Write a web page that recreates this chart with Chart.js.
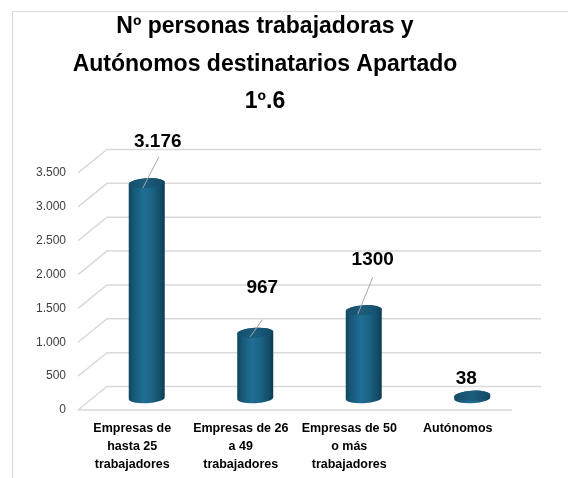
<!DOCTYPE html>
<html>
<head>
<meta charset="utf-8">
<script src="https://cdn.jsdelivr.net/npm/chart.js@4/dist/chart.umd.min.js"></script>
<style>
html,body{margin:0;padding:0;background:#fff;}
canvas{display:block;}
</style>
</head>
<body>
<canvas id="c" width="568" height="478"></canvas>
<script>
const titleLines = ["Nº personas trabajadoras y", "Autónomos destinatarios Apartado", "1º.6"];
const categories = [["Empresas de", "hasta 25", "trabajadores"], ["Empresas de 26", "a 49", "trabajadores"], ["Empresas de 50", "o más", "trabajadores"], "Autónomos"];
const values = [3176, 967, 1300, 38];
const valueLabels = ["3.176", "967", "1300", "38"];
const yMin = 0, yMax = 3500, yStep = 500;

const FONT = "'Liberation Sans', Arial, sans-serif";
const DEPTH = { dx: 29, dy: -23.5 };
const LABEL_OFFSETS = [{x: 11, y: -41}, {x: 7, y: -45}, {x: 9, y: -50}, {x: -6, y: -17}];
const LEADERS = [[-4, 5, 12, -26], [-5, 4, 7, -13], [-6, 4, 9, -33], null];

const fmt = v => String(v).replace(/\B(?=(\d{3})+(?!\d))/g, '.');

const frame3d = {
  id: 'frame3d',
  beforeDraw(chart) {
    const ctx = chart.ctx;
    ctx.save();
    ctx.fillStyle = '#fff';
    ctx.fillRect(0, 0, chart.width, chart.height);
    ctx.strokeStyle = '#d9d9d9';
    ctx.lineWidth = 1;
    ctx.strokeRect(12.5, 11.5, 1000, 1000);
    // title
    ctx.fillStyle = '#000';
    ctx.font = "bold 23px " + FONT;
    ctx.textAlign = 'center';
    ctx.textBaseline = 'alphabetic';
    const base = [33, 70.5, 107.5];
    titleLines.forEach((t, i) => ctx.fillText(t, 265, base[i]));
    ctx.restore();
  },
  beforeDatasetsDraw(chart) {
    const ctx = chart.ctx, y = chart.scales.y, a = chart.chartArea;
    ctx.save();
    ctx.strokeStyle = '#d9d9d9';
    ctx.lineWidth = 1.5;
    y.ticks.forEach(t => {
      const py = y.getPixelForValue(t.value);
      ctx.beginPath();
      ctx.moveTo(a.left, py);
      ctx.lineTo(a.left + DEPTH.dx, py + DEPTH.dy);
      ctx.lineTo(a.right + DEPTH.dx, py + DEPTH.dy);
      if (t.value === 0) {
        ctx.moveTo(a.left, py);
        ctx.lineTo(a.right, py);
      }
      ctx.stroke();
    });
    ctx.restore();
  },
  afterDatasetsDraw(chart) {
    const ctx = chart.ctx;
    const meta = chart.getDatasetMeta(0);
    ctx.save();
    meta.data.forEach((bar, i) => {
      const p = bar.getProps(['x', 'y', 'base', 'width'], true);
      const cx = p.x + DEPTH.dx / 2;
      const top = p.y + DEPTH.dy / 2;
      const bottom = p.base + DEPTH.dy / 2;
      const rx = p.width / 2, ry = 5, rot = -0.06;
      const g = ctx.createLinearGradient(cx - rx, 0, cx + rx, 0);
      g.addColorStop(0, '#0f445f');
      g.addColorStop(0.12, '#165674');
      g.addColorStop(0.4, '#1f6e95');
      g.addColorStop(0.6, '#1c6789');
      g.addColorStop(0.88, '#134d69');
      g.addColorStop(1, '#0d3b52');
      ctx.beginPath();
      ctx.moveTo(cx - rx, top);
      ctx.lineTo(cx - rx, bottom);
      ctx.ellipse(cx, bottom, rx, ry, rot, Math.PI, 0, true);
      ctx.lineTo(cx + rx, top);
      ctx.ellipse(cx, top, rx, ry, rot, 0, Math.PI, true);
      ctx.closePath();
      ctx.fillStyle = g;
      ctx.fill();
      // top cap
      const g2 = ctx.createLinearGradient(cx - rx, 0, cx + rx, 0);
      g2.addColorStop(0, '#164f6b');
      g2.addColorStop(0.5, '#1b5d7d');
      g2.addColorStop(1, '#134864');
      ctx.beginPath();
      ctx.ellipse(cx, top, rx, ry, rot, 0, Math.PI * 2);
      ctx.fillStyle = g2;
      ctx.fill();
      // leader line
      const L = LEADERS[i];
      if (L) {
        ctx.beginPath();
        ctx.strokeStyle = '#a6a6a6';
        ctx.lineWidth = 1;
        ctx.moveTo(cx + L[0], top + L[1]);
        ctx.lineTo(cx + L[2], top + L[3]);
        ctx.stroke();
      }
      // value label
      const o = LABEL_OFFSETS[i];
      ctx.fillStyle = '#000';
      ctx.font = "bold 19px " + FONT;
      ctx.textAlign = 'center';
      ctx.textBaseline = 'middle';
      ctx.fillText(valueLabels[i], cx + o.x, top + o.y);
    });
    ctx.restore();
  }
};

new Chart(document.getElementById('c'), {
  type: 'bar',
  data: {
    labels: categories,
    datasets: [{
      data: values,
      backgroundColor: 'rgba(0,0,0,0)',
      borderWidth: 0,
      categoryPercentage: 1,
      barPercentage: 0.332
    }]
  },
  options: {
    responsive: false,
    animation: false,
    devicePixelRatio: 1,
    layout: { padding: { top: 173, right: 56, bottom: 0, left: 0 } },
    plugins: { legend: { display: false }, title: { display: false }, tooltip: { enabled: false } },
    scales: {
      x: {
        grid: { display: false, drawTicks: false },
        border: { display: false },
        ticks: {
          padding: 9, maxRotation: 0, autoSkip: false, color: '#000',
          font: { family: FONT, size: 12.5, weight: 'bold', lineHeight: 1.45 }
        },
        afterFit(s) { s.height = 68; }
      },
      y: {
        min: yMin, max: yMax,
        grid: { display: false, drawTicks: false },
        border: { display: false },
        ticks: {
          stepSize: yStep, padding: 12, color: '#404040',
          font: { family: FONT, size: 12 },
          callback: v => fmt(v)
        },
        afterFit(s) { s.width = 78; }
      }
    }
  },
  plugins: [frame3d]
});
</script>
</body>
</html>
